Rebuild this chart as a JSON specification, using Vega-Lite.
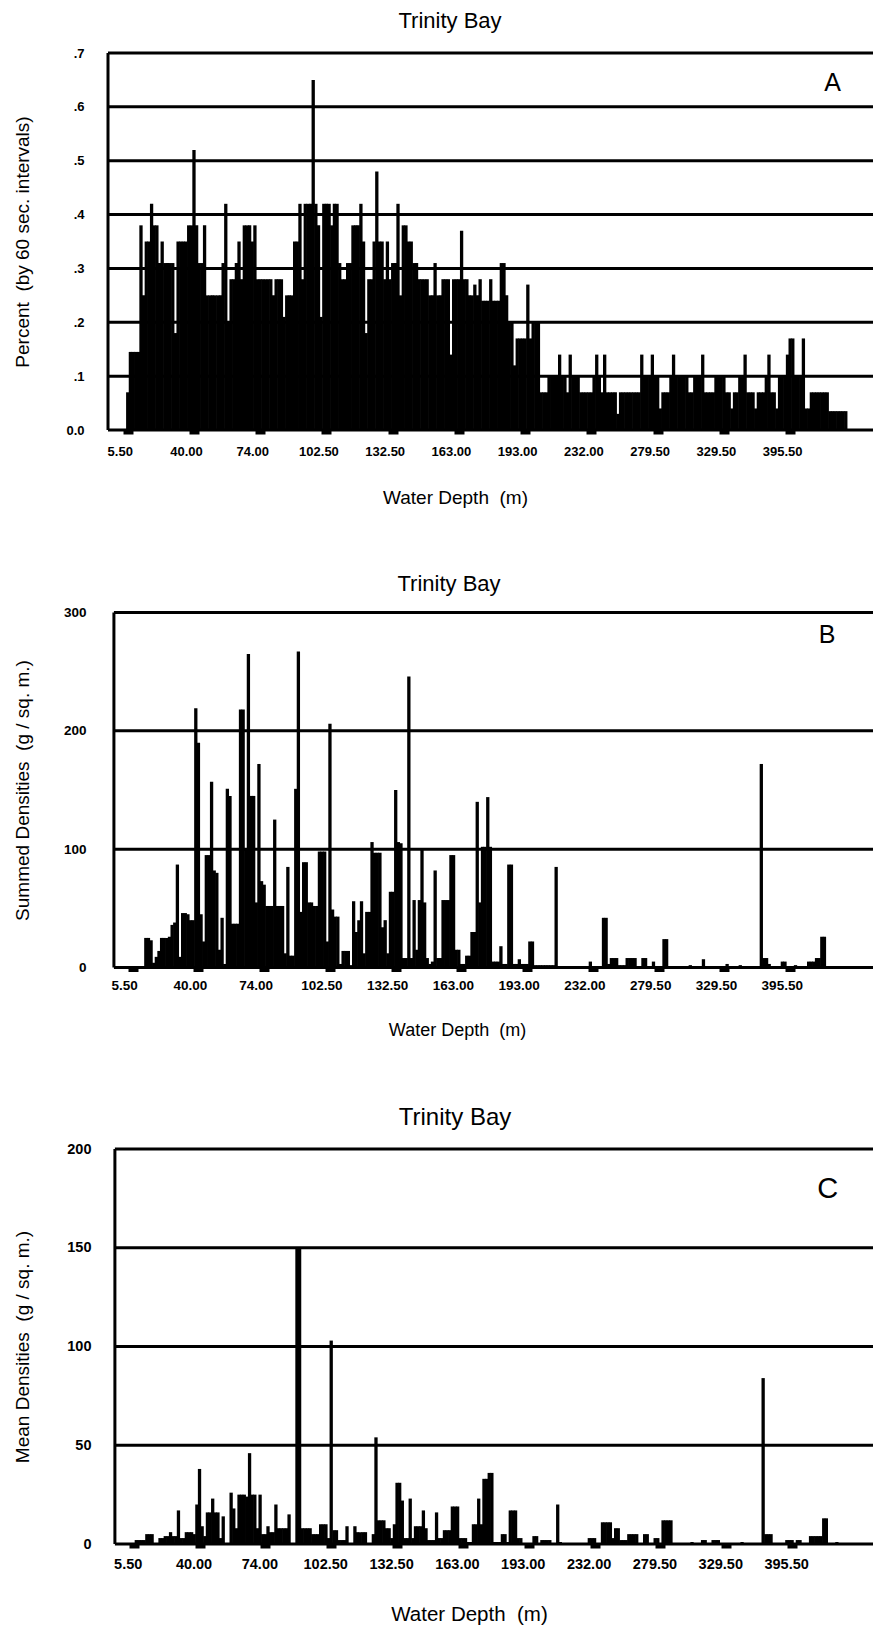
{
"$schema": "https://vega.github.io/schema/vega-lite/v6.json",
"background": "white",
"padding": {"left": 13, "top": 9, "right": 0, "bottom": 0},
"config": {
  "font": "Liberation Sans",
  "view": {"stroke": null},
  "axis": {"labelColor": "black", "titleColor": "black", "labelFont": "Liberation Sans", "titleFont": "Liberation Sans", "titleFontWeight": "normal", "labelFontWeight": "bold", "labelFlush": false, "labelOverlap": false, "domain": false, "grid": false},
  "title": {"color": "black", "font": "Liberation Sans", "fontWeight": "normal", "anchor": "middle", "frame": "group"}
},
"datasets": {"trinity": [
{"i":0,"a":0.07,"b":0,"c":0},{"i":1,"a":0.145,"b":0,"c":2},{"i":2,"a":0.145,"b":0,"c":2},{"i":3,"a":0.145,"b":0,"c":2},{"i":4,"a":0.145,"b":0,"c":2},
{"i":5,"a":0.38,"b":25,"c":5},{"i":6,"a":0.25,"b":25,"c":5},{"i":7,"a":0.35,"b":23,"c":5},{"i":8,"a":0.35,"b":4,"c":0},{"i":9,"a":0.42,"b":9,"c":0},
{"i":10,"a":0.38,"b":14,"c":3},{"i":11,"a":0.38,"b":25,"c":3},{"i":12,"a":0.31,"b":25,"c":4},{"i":13,"a":0.35,"b":25,"c":4},{"i":14,"a":0.31,"b":26,"c":6},
{"i":15,"a":0.31,"b":36,"c":4},{"i":16,"a":0.31,"b":38,"c":4},{"i":17,"a":0.31,"b":87,"c":17},{"i":18,"a":0.18,"b":9,"c":3},{"i":19,"a":0.35,"b":46,"c":3},
{"i":20,"a":0.35,"b":46,"c":6},{"i":21,"a":0.35,"b":45,"c":6},{"i":22,"a":0.35,"b":40,"c":6},{"i":23,"a":0.38,"b":40,"c":5},{"i":24,"a":0.38,"b":219,"c":20},
{"i":25,"a":0.52,"b":190,"c":38},{"i":26,"a":0.38,"b":45,"c":9},{"i":27,"a":0.31,"b":22,"c":4},{"i":28,"a":0.31,"b":95,"c":16},{"i":29,"a":0.38,"b":95,"c":16},
{"i":30,"a":0.25,"b":157,"c":23},{"i":31,"a":0.25,"b":82,"c":16},{"i":32,"a":0.25,"b":80,"c":16},{"i":33,"a":0.25,"b":15,"c":3},{"i":34,"a":0.25,"b":42,"c":14},
{"i":35,"a":0.25,"b":3,"c":0},{"i":36,"a":0.31,"b":151,"c":0},{"i":37,"a":0.42,"b":145,"c":26},{"i":38,"a":0.2,"b":37,"c":18},{"i":39,"a":0.28,"b":37,"c":8},
{"i":40,"a":0.28,"b":37,"c":25},{"i":41,"a":0.31,"b":218,"c":25},{"i":42,"a":0.35,"b":218,"c":25},{"i":43,"a":0.28,"b":100,"c":24},{"i":44,"a":0.38,"b":265,"c":46},
{"i":45,"a":0.38,"b":145,"c":25},{"i":46,"a":0.38,"b":145,"c":25},{"i":47,"a":0.35,"b":55,"c":8},{"i":48,"a":0.38,"b":172,"c":25},{"i":49,"a":0.28,"b":73,"c":5},
{"i":50,"a":0.28,"b":70,"c":5},{"i":51,"a":0.28,"b":52,"c":9},{"i":52,"a":0.28,"b":52,"c":6},{"i":53,"a":0.28,"b":52,"c":6},{"i":54,"a":0.28,"b":125,"c":20},
{"i":55,"a":0.25,"b":52,"c":8},{"i":56,"a":0.28,"b":52,"c":8},{"i":57,"a":0.28,"b":52,"c":8},{"i":58,"a":0.28,"b":12,"c":8},{"i":59,"a":0.21,"b":85,"c":15},
{"i":60,"a":0.25,"b":10,"c":0},{"i":61,"a":0.25,"b":10,"c":0},{"i":62,"a":0.25,"b":151,"c":150},{"i":63,"a":0.35,"b":267,"c":150},{"i":64,"a":0.35,"b":47,"c":8},
{"i":65,"a":0.42,"b":89,"c":8},{"i":66,"a":0.28,"b":89,"c":8},{"i":67,"a":0.42,"b":55,"c":8},{"i":68,"a":0.42,"b":55,"c":5},{"i":69,"a":0.42,"b":52,"c":5},
{"i":70,"a":0.65,"b":52,"c":5},{"i":71,"a":0.42,"b":98,"c":10},{"i":72,"a":0.38,"b":98,"c":10},{"i":73,"a":0.21,"b":98,"c":10},{"i":74,"a":0.42,"b":22,"c":3},
{"i":75,"a":0.42,"b":206,"c":103},{"i":76,"a":0.42,"b":49,"c":7},{"i":77,"a":0.38,"b":43,"c":7},{"i":78,"a":0.42,"b":43,"c":2},{"i":79,"a":0.42,"b":3,"c":2},
{"i":80,"a":0.31,"b":14,"c":2},{"i":81,"a":0.28,"b":14,"c":9},{"i":82,"a":0.28,"b":14,"c":0},{"i":83,"a":0.31,"b":2,"c":0},{"i":84,"a":0.31,"b":56,"c":9},
{"i":85,"a":0.38,"b":30,"c":6},{"i":86,"a":0.38,"b":40,"c":6},{"i":87,"a":0.38,"b":56,"c":6},{"i":88,"a":0.42,"b":12,"c":6},{"i":89,"a":0.35,"b":47,"c":0},
{"i":90,"a":0.18,"b":47,"c":0},{"i":91,"a":0.28,"b":106,"c":5},{"i":92,"a":0.28,"b":97,"c":54},{"i":93,"a":0.35,"b":97,"c":12},{"i":94,"a":0.48,"b":97,"c":12},
{"i":95,"a":0.35,"b":34,"c":12},{"i":96,"a":0.35,"b":40,"c":8},{"i":97,"a":0.28,"b":12,"c":8},{"i":98,"a":0.35,"b":64,"c":3},{"i":99,"a":0.28,"b":64,"c":10},
{"i":100,"a":0.31,"b":150,"c":31},{"i":101,"a":0.31,"b":106,"c":31},{"i":102,"a":0.42,"b":105,"c":22},{"i":103,"a":0.25,"b":8,"c":3},{"i":104,"a":0.38,"b":8,"c":3},
{"i":105,"a":0.38,"b":246,"c":23},{"i":106,"a":0.35,"b":8,"c":3},{"i":107,"a":0.35,"b":57,"c":9},{"i":108,"a":0.31,"b":15,"c":9},{"i":109,"a":0.31,"b":57,"c":9},
{"i":110,"a":0.28,"b":101,"c":17},{"i":111,"a":0.28,"b":55,"c":8},{"i":112,"a":0.28,"b":8,"c":2},{"i":113,"a":0.28,"b":3,"c":2},{"i":114,"a":0.25,"b":5,"c":2},
{"i":115,"a":0.25,"b":82,"c":16},{"i":116,"a":0.31,"b":8,"c":3},{"i":117,"a":0.25,"b":8,"c":3},{"i":118,"a":0.25,"b":57,"c":7},{"i":119,"a":0.28,"b":57,"c":7},
{"i":120,"a":0.28,"b":57,"c":7},{"i":121,"a":0.28,"b":95,"c":19},{"i":122,"a":0.14,"b":95,"c":19},{"i":123,"a":0.28,"b":15,"c":19},{"i":124,"a":0.28,"b":15,"c":3},
{"i":125,"a":0.28,"b":3,"c":3},{"i":126,"a":0.37,"b":3,"c":3},{"i":127,"a":0.28,"b":10,"c":1},{"i":128,"a":0.28,"b":10,"c":1},{"i":129,"a":0.25,"b":30,"c":10},
{"i":130,"a":0.25,"b":30,"c":10},{"i":131,"a":0.27,"b":140,"c":23},{"i":132,"a":0.25,"b":55,"c":10},{"i":133,"a":0.28,"b":102,"c":33},{"i":134,"a":0.24,"b":102,"c":33},
{"i":135,"a":0.24,"b":144,"c":36},{"i":136,"a":0.24,"b":102,"c":36},{"i":137,"a":0.28,"b":5,"c":1},{"i":138,"a":0.24,"b":5,"c":1},{"i":139,"a":0.24,"b":5,"c":1},
{"i":140,"a":0.24,"b":18,"c":5},{"i":141,"a":0.31,"b":3,"c":5},{"i":142,"a":0.31,"b":3,"c":1},{"i":143,"a":0.25,"b":87,"c":17},{"i":144,"a":0.2,"b":87,"c":17},
{"i":145,"a":0.2,"b":3,"c":17},{"i":146,"a":0.12,"b":3,"c":3},{"i":147,"a":0.17,"b":7,"c":3},{"i":148,"a":0.17,"b":3,"c":0},{"i":149,"a":0.17,"b":3,"c":0},
{"i":150,"a":0.17,"b":3,"c":0},{"i":151,"a":0.27,"b":22,"c":0},{"i":152,"a":0.17,"b":22,"c":4},{"i":153,"a":0.2,"b":2,"c":4},{"i":154,"a":0.2,"b":2,"c":0},
{"i":155,"a":0.2,"b":2,"c":2},{"i":156,"a":0.07,"b":2,"c":2},{"i":157,"a":0.07,"b":2,"c":2},{"i":158,"a":0.07,"b":2,"c":2},{"i":159,"a":0.1,"b":2,"c":0},
{"i":160,"a":0.1,"b":2,"c":0},{"i":161,"a":0.1,"b":85,"c":20},{"i":162,"a":0.1,"b":1,"c":1},{"i":163,"a":0.14,"b":1,"c":0},{"i":164,"a":0.1,"b":1,"c":0},
{"i":165,"a":0.1,"b":1,"c":0},{"i":166,"a":0.07,"b":1,"c":0},{"i":167,"a":0.14,"b":1,"c":0},{"i":168,"a":0.1,"b":1,"c":0},{"i":169,"a":0.1,"b":1,"c":0},
{"i":170,"a":0.1,"b":1,"c":0},{"i":171,"a":0.07,"b":1,"c":0},{"i":172,"a":0.07,"b":1,"c":0},{"i":173,"a":0.07,"b":1,"c":3},{"i":174,"a":0.07,"b":5,"c":3},
{"i":175,"a":0.07,"b":0,"c":3},{"i":176,"a":0.1,"b":0,"c":0},{"i":177,"a":0.14,"b":0,"c":0},{"i":178,"a":0.1,"b":0,"c":11},{"i":179,"a":0.07,"b":42,"c":11},
{"i":180,"a":0.14,"b":42,"c":11},{"i":181,"a":0.07,"b":3,"c":11},{"i":182,"a":0.07,"b":8,"c":3},{"i":183,"a":0.07,"b":8,"c":8},{"i":184,"a":0.07,"b":8,"c":8},
{"i":185,"a":0.03,"b":2,"c":2},{"i":186,"a":0.07,"b":2,"c":2},{"i":187,"a":0.07,"b":2,"c":2},{"i":188,"a":0.07,"b":8,"c":5},{"i":189,"a":0.07,"b":8,"c":5},
{"i":190,"a":0.07,"b":8,"c":5},{"i":191,"a":0.07,"b":8,"c":5},{"i":192,"a":0.07,"b":0,"c":0},{"i":193,"a":0.07,"b":0,"c":0},{"i":194,"a":0.14,"b":8,"c":5},
{"i":195,"a":0.1,"b":8,"c":5},{"i":196,"a":0.1,"b":0,"c":0},{"i":197,"a":0.1,"b":0,"c":0},{"i":198,"a":0.14,"b":5,"c":3},{"i":199,"a":0.1,"b":0,"c":3},
{"i":200,"a":0.1,"b":0,"c":0},{"i":201,"a":0.04,"b":0,"c":12},{"i":202,"a":0.07,"b":24,"c":12},{"i":203,"a":0.07,"b":24,"c":12},{"i":204,"a":0.07,"b":1,"c":12},
{"i":205,"a":0.1,"b":1,"c":0},{"i":206,"a":0.14,"b":1,"c":0},{"i":207,"a":0.1,"b":1,"c":0},{"i":208,"a":0.1,"b":1,"c":0},{"i":209,"a":0.1,"b":1,"c":0},
{"i":210,"a":0.1,"b":1,"c":0},{"i":211,"a":0.1,"b":1,"c":0},{"i":212,"a":0.07,"b":2,"c":1},{"i":213,"a":0.07,"b":0,"c":0},{"i":214,"a":0.1,"b":0,"c":0},
{"i":215,"a":0.1,"b":0,"c":0},{"i":216,"a":0.1,"b":0,"c":2},{"i":217,"a":0.14,"b":7,"c":2},{"i":218,"a":0.07,"b":1,"c":0},{"i":219,"a":0.07,"b":1,"c":0},
{"i":220,"a":0.07,"b":1,"c":2},{"i":221,"a":0.07,"b":1,"c":2},{"i":222,"a":0.1,"b":1,"c":2},{"i":223,"a":0.1,"b":1,"c":0},{"i":224,"a":0.1,"b":1,"c":0},
{"i":225,"a":0.1,"b":1,"c":0},{"i":226,"a":0.07,"b":3,"c":0},{"i":227,"a":0.07,"b":0,"c":0},{"i":228,"a":0.04,"b":0,"c":0},{"i":229,"a":0.07,"b":0,"c":0},
{"i":230,"a":0.07,"b":0,"c":0},{"i":231,"a":0.1,"b":2,"c":1},{"i":232,"a":0.1,"b":0,"c":0},{"i":233,"a":0.14,"b":0,"c":0},{"i":234,"a":0.07,"b":0,"c":0},
{"i":235,"a":0.07,"b":0,"c":0},{"i":236,"a":0.07,"b":0,"c":0},{"i":237,"a":0.04,"b":0,"c":0},{"i":238,"a":0.07,"b":0,"c":0},{"i":239,"a":0.07,"b":172,"c":84},
{"i":240,"a":0.07,"b":8,"c":5},{"i":241,"a":0.1,"b":8,"c":5},{"i":242,"a":0.14,"b":3,"c":5},{"i":243,"a":0.07,"b":0,"c":0},{"i":244,"a":0.07,"b":0,"c":0},
{"i":245,"a":0.04,"b":0,"c":0},{"i":246,"a":0.1,"b":0,"c":0},{"i":247,"a":0.1,"b":5,"c":0},{"i":248,"a":0.1,"b":5,"c":2},{"i":249,"a":0.14,"b":0,"c":2},
{"i":250,"a":0.17,"b":0,"c":2},{"i":251,"a":0.17,"b":0,"c":0},{"i":252,"a":0.1,"b":2,"c":2},{"i":253,"a":0.1,"b":0,"c":2},{"i":254,"a":0.1,"b":0,"c":0},
{"i":255,"a":0.17,"b":0,"c":0},{"i":256,"a":0.04,"b":0,"c":0},{"i":257,"a":0.04,"b":5,"c":4},{"i":258,"a":0.07,"b":5,"c":4},{"i":259,"a":0.07,"b":5,"c":4},
{"i":260,"a":0.07,"b":8,"c":4},{"i":261,"a":0.07,"b":8,"c":4},{"i":262,"a":0.07,"b":26,"c":13},{"i":263,"a":0.07,"b":26,"c":13},{"i":264,"a":0.07,"b":0,"c":0},
{"i":265,"a":0.035,"b":0,"c":0},{"i":266,"a":0.035,"b":0,"c":0},{"i":267,"a":0.035,"b":0,"c":1},{"i":268,"a":0.035,"b":0,"c":0},{"i":269,"a":0.035,"b":0,"c":0},
{"i":270,"a":0.035,"b":0,"c":0},{"i":271,"a":0.035,"b":0,"c":0}
]},
"concat": [
{
  "width": 778, "height": 377,
  "title": {"text": "Trinity Bay", "fontSize": 22, "offset": 14.5, "dx": -42},
  "layer": [
    {"data": {"values": [{"g":0},{"g":0.1},{"g":0.2},{"g":0.3},{"g":0.4},{"g":0.5},{"g":0.6},{"g":0.7}]},
     "mark": {"type": "rule", "color": "black", "strokeWidth": 3},
     "encoding": {"x": {"datum": -7.45, "type": "quantitative"}, "x2": {"datum": 283}, "y": {"field": "g", "type": "quantitative"}}},
    {"data": {"values": [{}]},
     "mark": {"type": "rule", "color": "black", "strokeWidth": 3},
     "encoding": {"x": {"datum": -7.45, "type": "quantitative"}, "y": {"datum": 0, "type": "quantitative"}, "y2": {"datum": 0.7}}},
    {"data": {"name": "trinity"},
     "mark": {"type": "bar", "color": "black", "size": 3.3},
     "encoding": {
       "x": {"field": "i", "type": "quantitative",
             "scale": {"domain": [-7.45, 282.4], "nice": false, "zero": false},
             "axis": {"values": [0,25,50,75,100,125,150,175,200,225,250],
                      "labelExpr": "['5.50','40.00','74.00','102.50','132.50','163.00','193.00','232.00','279.50','329.50','395.50'][round(datum.value/25)]",
                      "title": "Water Depth\u00a0 (m)", "titleFontSize": 19, "titleX": 352, "titlePadding": 30,
                      "labelFontSize": 13, "labelPadding": 11, "labelOffset": -8, "tickColor": "black", "tickWidth": 10, "tickSize": 4}},
       "y": {"field": "a", "type": "quantitative",
             "scale": {"domain": [0, 0.7], "nice": false},
             "axis": {"values": [0,0.1,0.2,0.3,0.4,0.5,0.6,0.7],
                      "labelExpr": "datum.value === 0 ? '0.0' : '.' + round(datum.value*10)",
                      "title": "Percent\u00a0 (by 60 sec. intervals)", "titleFontSize": 19, "titleX": -71,
                      "labelFontSize": 13, "labelPadding": 19, "ticks": false}}
     }},
    {"data": {"values": [{}]},
     "mark": {"type": "text", "text": "A", "fontSize": 25, "font": "Liberation Sans", "align": "center", "baseline": "alphabetic", "color": "black"},
     "encoding": {"x": {"datum": 266, "type": "quantitative"}, "y": {"datum": 0.629, "type": "quantitative"}}}
  ]
},
{
  "width": 778, "height": 355,
  "title": {"text": "Trinity Bay", "fontSize": 22, "offset": 9.4, "dx": -43},
  "layer": [
    {"data": {"values": [{"g":0},{"g":100},{"g":200},{"g":300}]},
     "mark": {"type": "rule", "color": "black", "strokeWidth": 3},
     "encoding": {"x": {"datum": -7.13, "type": "quantitative"}, "x2": {"datum": 283}, "y": {"field": "g", "type": "quantitative"}}},
    {"data": {"values": [{}]},
     "mark": {"type": "rule", "color": "black", "strokeWidth": 3},
     "encoding": {"x": {"datum": -7.13, "type": "quantitative"}, "y": {"datum": 0, "type": "quantitative"}, "y2": {"datum": 300}}},
    {"data": {"name": "trinity"},
     "mark": {"type": "bar", "color": "black", "size": 3.3},
     "encoding": {
       "x": {"field": "i", "type": "quantitative",
             "scale": {"domain": [-9.38, 282.6], "nice": false, "zero": false},
             "axis": {"values": [0,25,50,75,100,125,150,175,200,225,250],
                      "labelExpr": "['5.50','40.00','74.00','102.50','132.50','163.00','193.00','232.00','279.50','329.50','395.50'][round(datum.value/25)]",
                      "title": "Water Depth\u00a0 (m)", "titleFontSize": 18, "titleX": 354, "titlePadding": 29,
                      "labelFontSize": 13.5, "labelPadding": 7, "labelOffset": -8.5, "tickColor": "black", "tickWidth": 10, "tickSize": 4}},
       "y": {"field": "b", "type": "quantitative",
             "scale": {"domain": [0, 300], "nice": false},
             "axis": {"values": [0,100,200,300], "format": "d",
                      "title": "Summed Densities\u00a0 (g / sq. m.)", "titleFontSize": 19, "titleX": -71,
                      "labelFontSize": 13.5, "labelPadding": 17, "ticks": false}}
     }},
    {"data": {"values": [{}]},
     "mark": {"type": "text", "text": "B", "fontSize": 25, "font": "Liberation Sans", "align": "center", "baseline": "alphabetic", "color": "black"},
     "encoding": {"x": {"datum": 264, "type": "quantitative"}, "y": {"datum": 274.6, "type": "quantitative"}}}
  ]
},
{
  "width": 778, "height": 395,
  "title": {"text": "Trinity Bay", "fontSize": 24, "offset": 11.5, "dx": -37},
  "layer": [
    {"data": {"values": [{"g":0},{"g":50},{"g":100},{"g":150},{"g":200}]},
     "mark": {"type": "rule", "color": "black", "strokeWidth": 3},
     "encoding": {"x": {"datum": -7.13, "type": "quantitative"}, "x2": {"datum": 283}, "y": {"field": "g", "type": "quantitative"}}},
    {"data": {"values": [{}]},
     "mark": {"type": "rule", "color": "black", "strokeWidth": 3},
     "encoding": {"x": {"datum": -7.13, "type": "quantitative"}, "y": {"datum": 0, "type": "quantitative"}, "y2": {"datum": 200}}},
    {"data": {"name": "trinity"},
     "mark": {"type": "bar", "color": "black", "size": 3.3},
     "encoding": {
       "x": {"field": "i", "type": "quantitative",
             "scale": {"domain": [-9.75, 281.85], "nice": false, "zero": false},
             "axis": {"values": [0,25,50,75,100,125,150,175,200,225,250],
                      "labelExpr": "['5.50','40.00','74.00','102.50','132.50','163.00','193.00','232.00','279.50','329.50','395.50'][round(datum.value/25)]",
                      "title": "Water Depth\u00a0 (m)", "titleFontSize": 20.5, "titleX": 366, "titlePadding": 33,
                      "labelFontSize": 14.5, "labelPadding": 9.5, "labelOffset": -6, "tickColor": "black", "tickWidth": 10, "tickSize": 4}},
       "y": {"field": "c", "type": "quantitative",
             "scale": {"domain": [0, 200], "nice": false},
             "axis": {"values": [0,50,100,150,200], "format": "d",
                      "title": "Mean Densities\u00a0 (g / sq. m.)", "titleFontSize": 19, "titleX": -71,
                      "labelFontSize": 14.5, "labelPadding": 12, "ticks": false}}
     }},
    {"data": {"values": [{}]},
     "mark": {"type": "text", "text": "C", "fontSize": 29, "font": "Liberation Sans", "align": "center", "baseline": "alphabetic", "color": "black"},
     "encoding": {"x": {"datum": 263.5, "type": "quantitative"}, "y": {"datum": 175.2, "type": "quantitative"}}}
  ]
}
],
"columns": 1,
"align": "none",
"spacing": 65.5
}
